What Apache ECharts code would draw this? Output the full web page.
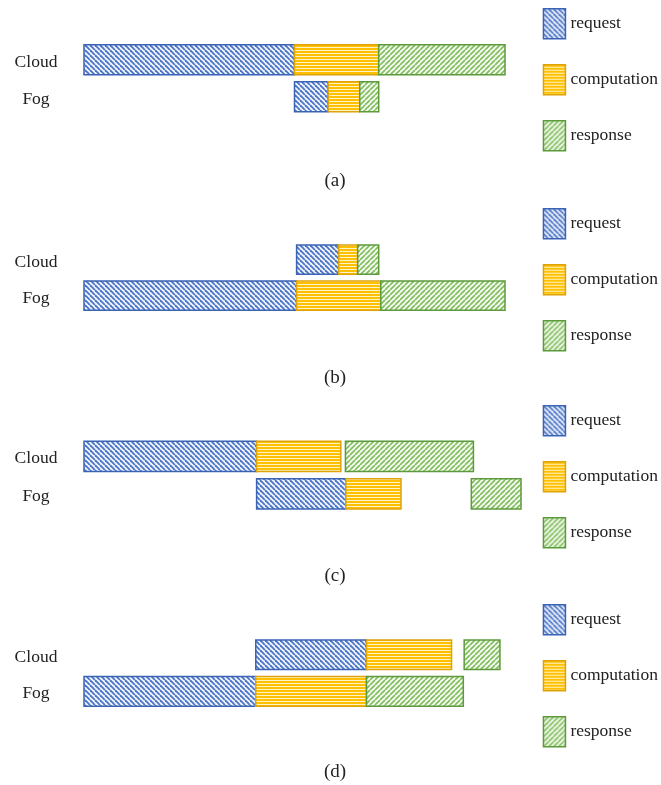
<!DOCTYPE html>
<html>
<head>
<meta charset="utf-8">
<script src="https://cdn.jsdelivr.net/npm/echarts@6/dist/echarts.min.js"></script>
<style>
html,body{margin:0;padding:0;background:#fff;}
#main{width:661px;height:785px;}
</style>
</head>
<body>
<div id="main"></div>
<script>
// ---- data (time units; each entry is [start, end] for Cloud, Fog) ----
const categories = ['Cloud', 'Fog'];
const phases = ['request', 'computation', 'response'];
const panelLabels = ['(a)', '(b)', '(c)', '(d)'];

const requestA = [[0, 50], [50, 58]];
const computationA = [[50, 70], [58, 65.5]];
const responseA = [[70, 100], [65.5, 70]];

const requestB = [[50.5, 60.5], [0, 50.5]];
const computationB = [[60.5, 65], [50.5, 70.5]];
const responseB = [[65, 70], [70.5, 100]];

const requestC = [[0, 41], [41, 62.2]];
const computationC = [[41, 61], [62.2, 75.3]];
const responseC = [[62.1, 92.5], [92, 103.8]];

const requestD = [[40.8, 67.1], [0, 40.8]];
const computationD = [[67.1, 87.3], [40.8, 67.1]];
const responseD = [[90.3, 98.8], [67.1, 90.1]];

const panels = [
  [requestA, computationA, responseA],
  [requestB, computationB, responseB],
  [requestC, computationC, responseC],
  [requestD, computationD, responseD]
];

// ---- patterns ----
function makeDiag(size, bg, line, lw, dir) {
  const c = document.createElement('canvas');
  c.width = size; c.height = size;
  const g = c.getContext('2d');
  g.fillStyle = bg; g.fillRect(0, 0, size, size);
  g.strokeStyle = line; g.lineWidth = lw;
  for (let k = -size; k <= size; k += size) {
    g.beginPath();
    if (dir === 'down') { g.moveTo(k, 0); g.lineTo(k + size, size); }
    else { g.moveTo(k, size); g.lineTo(k + size, 0); }
    g.stroke();
  }
  return c;
}
function makeHoriz() {
  const c = document.createElement('canvas');
  c.width = 4; c.height = 3;
  const g = c.getContext('2d');
  g.fillStyle = '#FFC000'; g.fillRect(0, 0, 4, 3);
  g.fillStyle = '#fff3c8'; g.fillRect(0, 2, 4, 1);
  return c;
}
const styles = {
  request: { fill: { image: makeDiag(5, '#f2f5fc', '#4a74c6', 1.8, 'down'), repeat: 'repeat' }, stroke: '#3b63b4' },
  computation: { fill: { image: makeHoriz(), repeat: 'repeat' }, stroke: '#dfa30a' },
  response: { fill: { image: makeDiag(5, '#f6fbf2', '#82bd5e', 1.7, 'up'), repeat: 'repeat' }, stroke: '#5c9a3c' }
};

// ---- layout ----
const gridTops = [41.2, 241.7, 437.6, 636.4];
const gridHeights = [74, 72, 75, 73.3];
const legendTops = [3, 203, 400, 599];
const labelYs = [181, 378, 576, 772];

const grids = [], xAxes = [], yAxes = [], series = [], legends = [], graphics = [];
panels.forEach((panel, p) => {
  grids.push({ left: 84, top: gridTops[p], width: 463.1, height: gridHeights[p] });
  xAxes.push({ gridIndex: p, type: 'value', min: 0, max: 110, show: false });
  yAxes.push({
    gridIndex: p, type: 'category', data: categories, inverse: true,
    axisLine: { show: false }, axisTick: { show: false }, splitLine: { show: false },
    axisLabel: {
      margin: 48, align: 'center', formatter: '{l|{value}}',
      rich: { l: { fontFamily: 'Liberation Serif', fontSize: 17.5, color: '#222', padding: [5, 0, 0, 0] } }
    }
  });
  panel.forEach((arr, k) => {
    const name = phases[k];
    series.push({
      type: 'custom', name: name, xAxisIndex: p, yAxisIndex: p,
      itemStyle: { color: styles[name].fill, borderColor: styles[name].stroke, borderWidth: 1.5 },
      encode: { x: [1, 2], y: 0 },
      data: arr.map((v, i) => [i, v[0], v[1]]),
      renderItem: function (params, api) {
        const cat = api.value(0);
        const a = api.coord([api.value(1), cat]);
        const b = api.coord([api.value(2), cat]);
        const h = api.size([0, 1])[1] * 0.81;
        return {
          type: 'rect',
          shape: { x: a[0], y: a[1] - h / 2, width: b[0] - a[0], height: h },
          style: { fill: styles[name].fill, stroke: styles[name].stroke, lineWidth: 1.5 }
        };
      }
    });
  });
  legends.push({
    orient: 'vertical', left: 537.7, top: legendTops[p], itemWidth: 22, itemHeight: 30, itemGap: 24.5,
    icon: 'rect', selectedMode: false,
    textStyle: { fontFamily: 'Liberation Serif', fontSize: 17.5, color: '#222' },
    data: phases.map(n => ({ name: n, itemStyle: { color: styles[n].fill, borderColor: styles[n].stroke, borderWidth: 1.5 } }))
  });
  graphics.push({
    type: 'text', x: 335, y: labelYs[p],
    style: { text: panelLabels[p], align: 'center', verticalAlign: 'middle', font: '19px "Liberation Serif"', fill: '#222' }
  });
});

const chart = echarts.init(document.getElementById('main'), null, { renderer: 'canvas' });
chart.setOption({
  animation: false,
  backgroundColor: '#ffffff',
  grid: grids, xAxis: xAxes, yAxis: yAxes, series: series, legend: legends,
  graphic: graphics
});
</script>
</body>
</html>
